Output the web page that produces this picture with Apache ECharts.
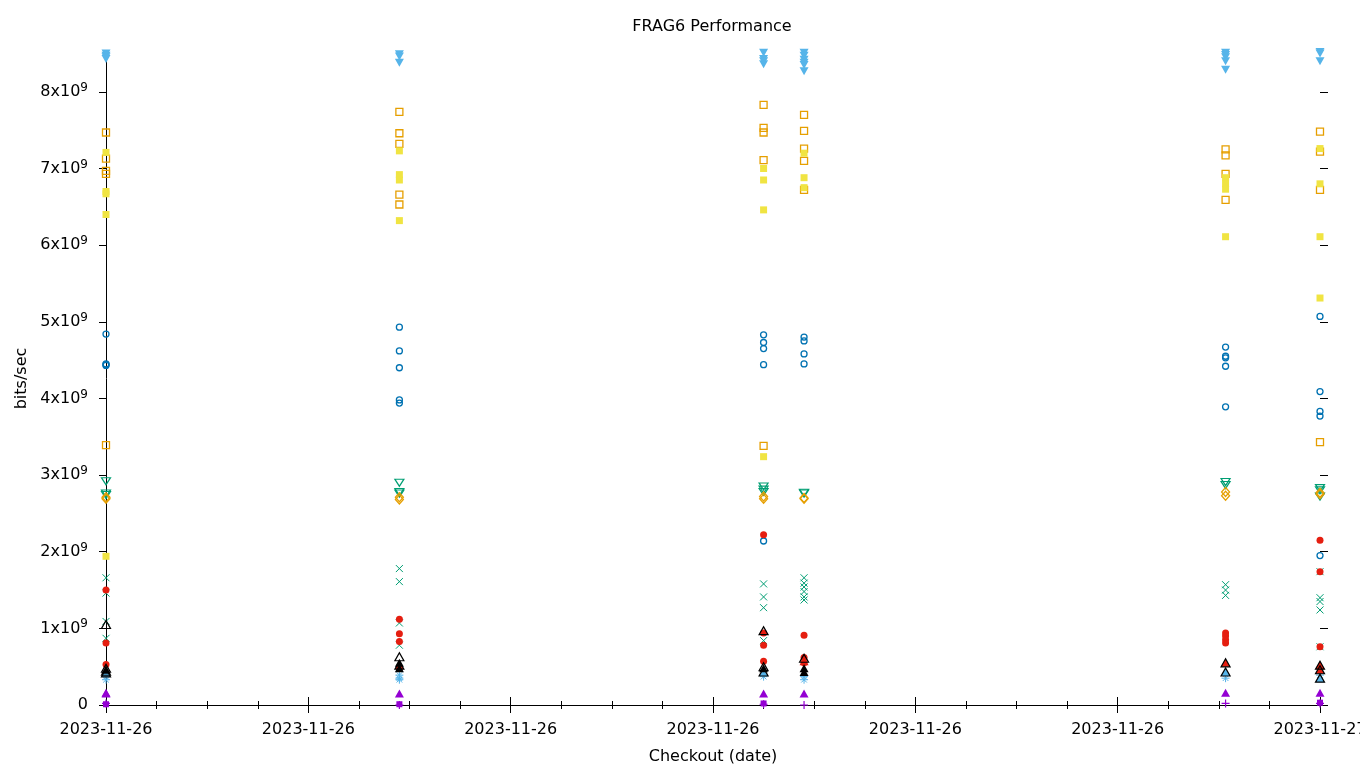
<!DOCTYPE html>
<html>
<head>
<meta charset="utf-8">
<script src="https://cdn.jsdelivr.net/npm/echarts@6/dist/echarts.min.js"></script>
<style>html,body{margin:0;padding:0;background:#fff}#chart{width:1360px;height:768px}</style>
</head>
<body>
<div id="chart"></div>
<script>
// ---- data (values in 10^9 bits/sec) ----
const chartTitle = 'FRAG6 Performance';
const checkoutTimes = ['2023-11-26 18:00', '2023-11-26 19:27', '2023-11-26 21:15', '2023-11-26 21:27', '2023-11-26 23:32', '2023-11-27 00:00'];
const xTickLabels = ['2023-11-26', '2023-11-26', '2023-11-26', '2023-11-26', '2023-11-26', '2023-11-26', '2023-11-27'];
const yTickValues = [0, 1, 2, 3, 4, 5, 6, 7, 8];

const plusPurple      = [[0.02], [0.00], [0.01], [0.00], [0.02], [0.02]];
const crossGreen      = [[1.66, 1.46, 1.09, 0.87], [1.78, 1.61, 1.07, 0.78], [1.58, 1.41, 1.27, 0.84], [1.66, 1.59, 1.54, 1.48, 1.41, 1.37], [1.57, 1.50, 1.43], [1.74, 1.40, 1.35, 1.24, 0.76]];
const starLightBlue   = [[0.37, 0.33], [0.39, 0.35, 0.33], [0.37], [0.37, 0.33], [0.35], [0.39]];
const squareOpenOrange= [[7.47, 7.13, 6.97, 6.93, 3.39], [7.74, 7.46, 7.32, 6.66, 6.53], [7.83, 7.53, 7.47, 7.11, 3.38], [7.70, 7.49, 7.26, 7.10, 6.72], [7.25, 7.17, 6.93, 6.59], [7.48, 7.22, 6.72, 3.43]];
const squareYellow    = [[7.21, 6.70, 6.67, 6.40, 1.94], [7.23, 6.92, 6.85, 6.32], [7.00, 6.85, 6.46, 3.24], [7.20, 6.88, 6.75], [6.88, 6.80, 6.73, 6.11], [7.26, 6.80, 6.11, 5.31]];
const circleOpenBlue  = [[4.84, 4.45, 4.44, 4.43], [4.93, 4.62, 4.40, 3.98, 3.94], [4.83, 4.73, 4.65, 4.44, 2.14], [4.80, 4.75, 4.58, 4.45], [4.67, 4.55, 4.53, 4.42, 3.89], [5.07, 4.09, 3.83, 3.77, 1.95]];
const circleRed       = [[1.50, 0.81, 0.53], [1.12, 0.93, 0.83, 0.48], [2.22, 0.94, 0.78, 0.57], [0.91, 0.62, 0.55], [0.94, 0.90, 0.85, 0.81], [2.15, 1.74, 0.76]];
const triangleRed     = [[], [], [], [0.57], [0.55], [0.52, 0.46]];
const triangleLightBlue = [[0.42], [], [0.43], [], [0.43], [0.35]];
const triangleBlack   = [[0.46], [0.55, 0.48], [0.48], [0.48, 0.43], [], []];
const triangleOpenBlack = [[1.05, 0.48, 0.44, 0.42], [0.63, 0.52], [0.97, 0.50, 0.43], [0.61], [0.55, 0.43], [0.52, 0.46, 0.35]];
const trianglePurple  = [[0.16, 0.15], [0.15], [0.15], [0.15], [0.16], [0.16]];
const squarePurple    = [[0.01], [0.01], [0.02], [], [], [0.03]];
const triDownOpenGreen= [[2.92, 2.76, 2.74], [2.90, 2.78, 2.76], [2.85, 2.81, 2.78], [2.77, 2.76], [2.91, 2.87], [2.83, 2.80, 2.72]];
const triDownLightBlue= [[8.50, 8.47, 8.45, 8.43], [8.49, 8.46, 8.38], [8.51, 8.43, 8.40, 8.36], [8.51, 8.47, 8.42, 8.38, 8.35, 8.27], [8.51, 8.48, 8.45, 8.40, 8.29], [8.52, 8.50, 8.40]];
const diamondOpenOrange = [[2.71, 2.69], [2.71, 2.68], [2.72, 2.69], [2.70, 2.69], [2.78, 2.73], [2.77, 2.75]];

// ---- helpers ----
const GIGA = 1e9;
const HOUR = 3600 * 1000;
function parseTime(s) {
  const [d, t] = s.split(' ');
  const [Y, M, D] = d.split('-').map(Number);
  const [h, m] = t.split(':').map(Number);
  return Date.UTC(Y, M - 1, D, h, m);
}
const times = checkoutTimes.map(parseTime);
const T0 = parseTime('2023-11-26 18:00');
const T1 = parseTime('2023-11-27 00:00');
const Y_MAX = 8.52 * GIGA;

function pts(cols) {
  const out = [];
  cols.forEach((vals, i) => vals.forEach(v => out.push([times[i], v * GIGA])));
  return out;
}

const C = {purple: '#9400D3', green: '#009E73', lblue: '#56B4E9', orange: '#E69F00', yellow: '#F0E442', dblue: '#0072B2', red: '#E51E10', black: '#000000'};
const P = {
  plus: 'path://M5 0 L5 10 M0 5 L10 5',
  cross: 'path://M0 0 L10 10 M10 0 L0 10',
  star: 'path://M5 0 L5 10 M0 5 L10 5 M1.5 1.5 L8.5 8.5 M8.5 1.5 L1.5 8.5',
  triDown: 'path://M0 0 L10 0 L5 9 Z'
};
function open(color, symbol, size, name, cols, w) {
  return {type: 'scatter', name, symbol, symbolSize: size, data: pts(cols),
    itemStyle: {color: 'rgba(0,0,0,0)', borderColor: color, borderWidth: w || 1, opacity: 1}};
}
function filled(color, symbol, size, name, cols) {
  return {type: 'scatter', name, symbol, symbolSize: size, data: pts(cols),
    itemStyle: {color: color, opacity: 1}};
}

const series = [
  open(C.purple, P.plus, [8, 8], 'purple plus', plusPurple, 1.2),
  open(C.green, P.cross, [7, 7], 'green cross', crossGreen),
  open(C.lblue, P.star, [8, 8], 'light blue star', starLightBlue),
  open(C.orange, 'rect', [7, 7], 'orange square', squareOpenOrange, 1.3),
  filled(C.yellow, 'rect', [7, 7], 'yellow square', squareYellow),
  open(C.dblue, 'circle', [6, 6], 'blue circle', circleOpenBlue, 1.3),
  filled(C.red, 'circle', [7, 7], 'red circle', circleRed),
  filled(C.red, 'triangle', [9, 8], 'red triangle', triangleRed),
  filled(C.lblue, 'triangle', [9, 8], 'light blue triangle', triangleLightBlue),
  filled(C.black, 'triangle', [9, 8], 'black triangle', triangleBlack),
  open(C.black, 'triangle', [9, 8], 'black open triangle', triangleOpenBlack, 1.2),
  filled(C.purple, 'triangle', [9, 8], 'purple triangle', trianglePurple),
  filled(C.purple, 'rect', [6, 6], 'purple square', squarePurple),
  open(C.green, P.triDown, [9, 7], 'green down triangle', triDownOpenGreen, 1.2),
  filled(C.lblue, P.triDown, [9, 8], 'light blue down triangle', triDownLightBlue),
  open(C.orange, 'diamond', [8, 9], 'orange diamond', diamondOpenOrange, 1.3)
];
series.forEach((s, i) => { s.z = 2 + i; s.animation = false; s.clip = false; s.emphasis = {disabled: true}; });

const FONT = 'DejaVu Sans';
const axisLineStyle = {color: '#000', width: 1};

const option = {
  animation: false,
  backgroundColor: '#fff',
  textStyle: {fontFamily: FONT},
  title: {text: chartTitle, left: 707, top: 14, textAlign: 'center',
    textStyle: {fontFamily: FONT, fontSize: 16, fontWeight: 'normal', color: '#000'}},
  grid: {left: 106, right: 40, top: 52, bottom: 63, containLabel: false, outerBoundsMode: 'none'},
  xAxis: [
    {type: 'value', position: 'bottom', min: T0, max: T1, interval: HOUR,
      name: 'Checkout (date)', nameLocation: 'middle', nameGap: 44,
      nameTextStyle: {fontFamily: FONT, fontSize: 16, color: '#000'},
      axisLine: {show: true, onZero: false, lineStyle: axisLineStyle},
      axisTick: {show: true, length: 8, inside: false, lineStyle: axisLineStyle},
      minorTick: {show: true, splitNumber: 4, length: 4, lineStyle: axisLineStyle},
      splitLine: {show: false}, minorSplitLine: {show: false},
      axisLabel: {show: true, margin: 17, fontFamily: FONT, fontSize: 16, color: '#000',
        showMinLabel: true, showMaxLabel: true, hideOverlap: false,
        formatter: v => xTickLabels[Math.round((v - T0) / HOUR)] || ''}},
    {type: 'value', position: 'top', min: T0, max: T1, interval: HOUR,
      axisLine: {show: false},
      axisTick: {show: true, length: 8, inside: false, lineStyle: axisLineStyle},
      minorTick: {show: true, splitNumber: 4, length: 4, lineStyle: axisLineStyle},
      splitLine: {show: false}, axisLabel: {show: false}}
  ],
  yAxis: [
    {type: 'value', position: 'left', min: 0, max: Y_MAX, interval: GIGA,
      name: 'bits/sec', nameLocation: 'middle', nameGap: 71, nameRotate: 90,
      nameTextStyle: {fontFamily: FONT, fontSize: 16, color: '#000'},
      axisLine: {show: true, onZero: false, lineStyle: axisLineStyle},
      axisTick: {show: true, length: 7, inside: false, lineStyle: axisLineStyle, customValues: yTickValues.map(v => v * GIGA)},
      splitLine: {show: false},
      axisLabel: {show: true, margin: 18, fontFamily: FONT, fontSize: 16, color: '#000',
        customValues: yTickValues.map(v => v * GIGA),
        formatter: v => {
          const n = Math.round(v / GIGA);
          return n === 0 ? '{m|0}' : '{m|' + n + 'x10}{s|9}';
        },
        rich: {
          m: {fontFamily: FONT, fontSize: 16, color: '#000'},
          s: {fontFamily: FONT, fontSize: 12, color: '#000', verticalAlign: 'bottom', padding: [0, 0, 8, 0]}
        }}},
    {type: 'value', position: 'right', min: 0, max: Y_MAX, interval: GIGA,
      axisLine: {show: false},
      axisTick: {show: true, length: 8, inside: false, lineStyle: axisLineStyle, customValues: yTickValues.map(v => v * GIGA)},
      splitLine: {show: false}, axisLabel: {show: false}}
  ],
  series: series
};

const chart = echarts.init(document.getElementById('chart'), null, {renderer: 'canvas'});
chart.setOption(option);
</script>
</body>
</html>
